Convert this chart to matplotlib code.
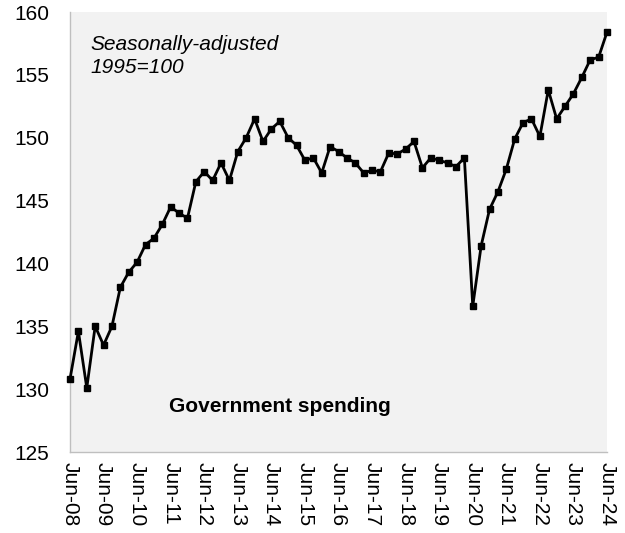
import matplotlib
matplotlib.use("Agg")
import matplotlib.pyplot as plt

plt.rcParams['font.family'] = ['Liberation Sans', 'DejaVu Sans']

years = list(range(8, 25))
tick_labels = [f"Jun-{y:02d}" for y in years]

values = [130.8, 134.6, 130.1, 135.0, 133.5, 135.0, 138.1, 139.3, 140.1, 141.5,
          142.0, 143.1, 144.5, 144.0, 143.6, 146.5, 147.3, 146.6, 148.0, 146.6,
          148.9, 150.0, 151.5, 149.7, 150.7, 151.3, 150.0, 149.4, 148.2, 148.4,
          147.2, 149.3, 148.9, 148.4, 148.0, 147.2, 147.4, 147.3, 148.8, 148.7,
          149.1, 149.7, 147.6, 148.4, 148.2, 148.0, 147.7, 148.4, 136.6, 141.4,
          144.3, 145.7, 147.5, 149.9, 151.2, 151.5, 150.1, 153.8, 151.5, 152.5,
          153.5, 154.8, 156.2, 156.4, 158.4]

fig = plt.figure(figsize=(6.25, 5.33), dpi=100)
ax = fig.add_axes([70/625, 1-452/533, (607-70)/625, (452-12)/533])
ax.set_facecolor('#f2f2f2')

x = list(range(len(values)))
ax.plot(x, values, color='black', lw=2.0, marker='s', markersize=5, clip_on=False, zorder=3)

ax.set_xlim(0, len(values) - 1)
ax.set_ylim(125, 160)
ax.set_yticks(range(125, 161, 5))
ax.set_xticks(range(0, len(values), 4))
ax.set_xticklabels(tick_labels, rotation=-90, fontsize=15)
ax.tick_params(axis='y', labelsize=15, length=0, pad=15)
ax.tick_params(axis='x', length=0, pad=7)

for s in ['top', 'right']:
    ax.spines[s].set_visible(False)
for s in ['left', 'bottom']:
    ax.spines[s].set_color('#bfbfbf')
    ax.spines[s].set_linewidth(1.0)

ax.text(0.038, 0.948, "Seasonally-adjusted\n1995=100", transform=ax.transAxes,
        fontsize=15, style='italic', va='top', ha='left', linespacing=1.3)
ax.text(0.391, 0.104, "Government spending", transform=ax.transAxes,
        fontsize=15, weight='bold', va='center', ha='center')

fig.savefig('out.png', dpi=100)
